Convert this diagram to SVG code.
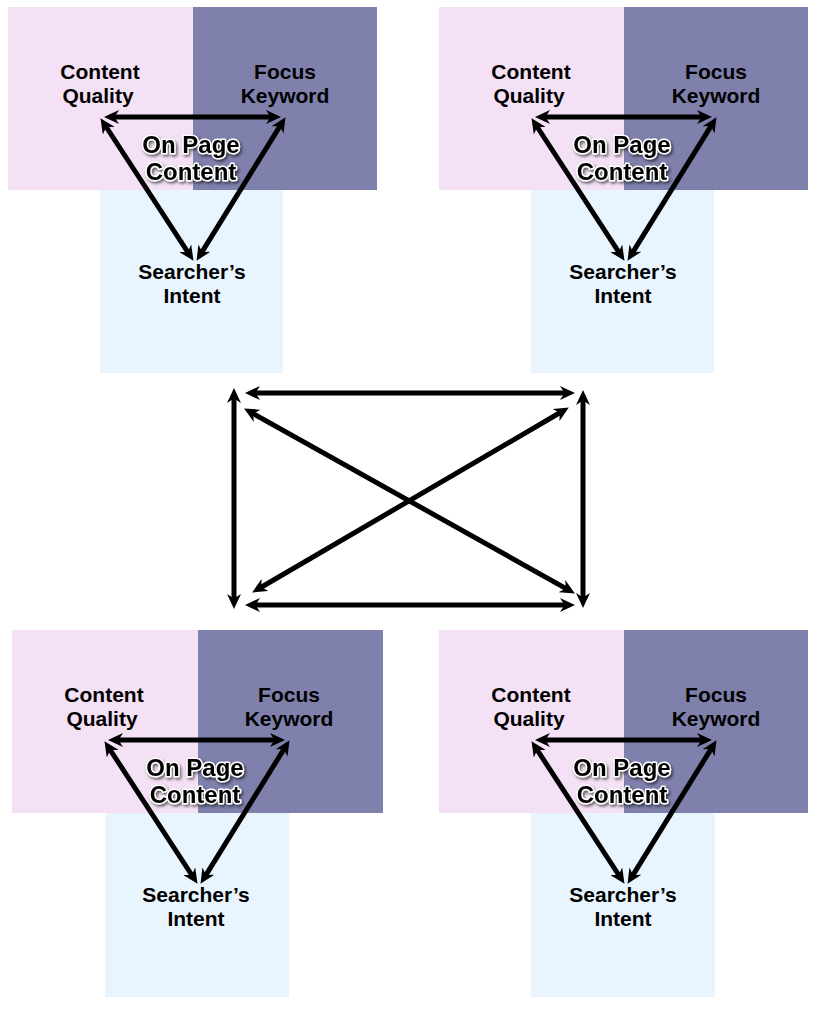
<svg xmlns="http://www.w3.org/2000/svg" width="818" height="1024" viewBox="0 0 818 1024">
  <style>
    .pink{fill:#f4e1f5}
    .purple{fill:#7f81ac}
    .blue{fill:#e9f5fe}
    .lbl{font-family:"Liberation Sans",Arial,sans-serif;font-weight:bold;font-size:21px;fill:#000;text-anchor:middle}
    .core{font-family:"Liberation Sans",Arial,sans-serif;font-weight:bold;font-size:24px;fill:#000;stroke:#fff;stroke-width:3;paint-order:stroke;stroke-linejoin:round;text-anchor:middle;filter:url(#shadow)}
    .arr{stroke:#000;stroke-width:5;fill:none;marker-start:url(#ah);marker-end:url(#ah)}
  </style>
  <defs>
    <marker id="ah" markerUnits="userSpaceOnUse" markerWidth="16" markerHeight="14" refX="8" refY="7" orient="auto-start-reverse" viewBox="0 0 16 14">
      <path d="M0,0 L15,7 L0,14 L4.5,7 Z" fill="#000"/>
    </marker>
    <filter id="shadow" x="-20%" y="-30%" width="140%" height="170%">
      <feDropShadow dx="1.5" dy="2" stdDeviation="1.5" flood-color="#000" flood-opacity="0.6"/>
    </filter>
  </defs>

  <rect width="818" height="1024" fill="#fff"/>

  <!-- Cluster top-left -->
  <g id="cluster-tl">
    <g id="tl-content-quality"><rect class="pink" x="8" y="7" width="185" height="183"/><text class="lbl" x="100" y="79">Content</text><text class="lbl" x="98" y="103">Quality</text></g>
    <g id="tl-focus-keyword"><rect class="purple" x="193" y="7" width="184" height="183"/><text class="lbl" x="285" y="79">Focus</text><text class="lbl" x="285" y="103">Keyword</text></g>
    <g id="tl-searchers-intent"><rect class="blue" x="100" y="190" width="183" height="183"/><text class="lbl" x="192" y="279">Searcher’s</text><text class="lbl" x="192" y="303">Intent</text></g>
    <g id="tl-on-page-content"><text class="core" x="191" y="153">On Page</text><text class="core" x="191" y="180">Content</text></g>
  </g>

  <!-- Cluster top-right -->
  <g id="cluster-tr" transform="translate(431,0)">
    <g id="tr-content-quality"><rect class="pink" x="8" y="7" width="185" height="183"/><text class="lbl" x="100" y="79">Content</text><text class="lbl" x="98" y="103">Quality</text></g>
    <g id="tr-focus-keyword"><rect class="purple" x="193" y="7" width="184" height="183"/><text class="lbl" x="285" y="79">Focus</text><text class="lbl" x="285" y="103">Keyword</text></g>
    <g id="tr-searchers-intent"><rect class="blue" x="100" y="190" width="183" height="183"/><text class="lbl" x="192" y="279">Searcher’s</text><text class="lbl" x="192" y="303">Intent</text></g>
    <g id="tr-on-page-content"><text class="core" x="191" y="153">On Page</text><text class="core" x="191" y="180">Content</text></g>
  </g>

  <!-- Cluster bottom-left -->
  <g id="cluster-bl" transform="translate(4,623)">
    <g id="bl-content-quality"><rect class="pink" x="8" y="7" width="186" height="183"/><text class="lbl" x="100" y="79">Content</text><text class="lbl" x="98" y="103">Quality</text></g>
    <g id="bl-focus-keyword"><rect class="purple" x="194" y="7" width="185" height="183"/><text class="lbl" x="285" y="79">Focus</text><text class="lbl" x="285" y="103">Keyword</text></g>
    <g id="bl-searchers-intent"><rect class="blue" x="101" y="190" width="184" height="184"/><text class="lbl" x="192" y="279">Searcher’s</text><text class="lbl" x="192" y="303">Intent</text></g>
    <g id="bl-on-page-content"><text class="core" x="191" y="153">On Page</text><text class="core" x="191" y="180">Content</text></g>
  </g>

  <!-- Cluster bottom-right -->
  <g id="cluster-br" transform="translate(431,623)">
    <g id="br-content-quality"><rect class="pink" x="8" y="7" width="185" height="183"/><text class="lbl" x="100" y="79">Content</text><text class="lbl" x="98" y="103">Quality</text></g>
    <g id="br-focus-keyword"><rect class="purple" x="193" y="7" width="184" height="183"/><text class="lbl" x="285" y="79">Focus</text><text class="lbl" x="285" y="103">Keyword</text></g>
    <g id="br-searchers-intent"><rect class="blue" x="100" y="190" width="184" height="184"/><text class="lbl" x="192" y="279">Searcher’s</text><text class="lbl" x="192" y="303">Intent</text></g>
    <g id="br-on-page-content"><text class="core" x="191" y="153">On Page</text><text class="core" x="191" y="180">Content</text></g>
  </g>

  <!-- Connectors -->
  <g id="connectors">
    <g id="conn-tl">
      <line class="arr" x1="111" y1="117" x2="274" y2="117"/>
      <line class="arr" x1="104.3" y1="124" x2="189.7" y2="255"/>
      <line class="arr" x1="281.8" y1="123.1" x2="200.2" y2="254.9"/>
    </g>
    <g id="conn-tr" transform="translate(431,0)">
      <line class="arr" x1="111" y1="117" x2="274" y2="117"/>
      <line class="arr" x1="104.3" y1="124" x2="189.7" y2="255"/>
      <line class="arr" x1="281.8" y1="123.1" x2="200.2" y2="254.9"/>
    </g>
    <g id="conn-bl" transform="translate(4,623)">
      <line class="arr" x1="111" y1="117" x2="274" y2="117"/>
      <line class="arr" x1="104.3" y1="124" x2="189.7" y2="255"/>
      <line class="arr" x1="281.8" y1="123.1" x2="200.2" y2="254.9"/>
    </g>
    <g id="conn-br" transform="translate(431,623)">
      <line class="arr" x1="111" y1="117" x2="274" y2="117"/>
      <line class="arr" x1="104.3" y1="124" x2="189.7" y2="255"/>
      <line class="arr" x1="281.8" y1="123.1" x2="200.2" y2="254.9"/>
    </g>
    <g id="conn-center">
      <line class="arr" x1="252" y1="393" x2="568" y2="393"/>
      <line class="arr" x1="252" y1="605" x2="568" y2="605"/>
      <line class="arr" x1="234" y1="395" x2="234" y2="602"/>
      <line class="arr" x1="583" y1="397" x2="583" y2="601"/>
      <line class="arr" x1="250.2" y1="411.9" x2="568.8" y2="590.1"/>
      <line class="arr" x1="562.8" y1="411" x2="258.2" y2="589"/>
    </g>
  </g>
</svg>
